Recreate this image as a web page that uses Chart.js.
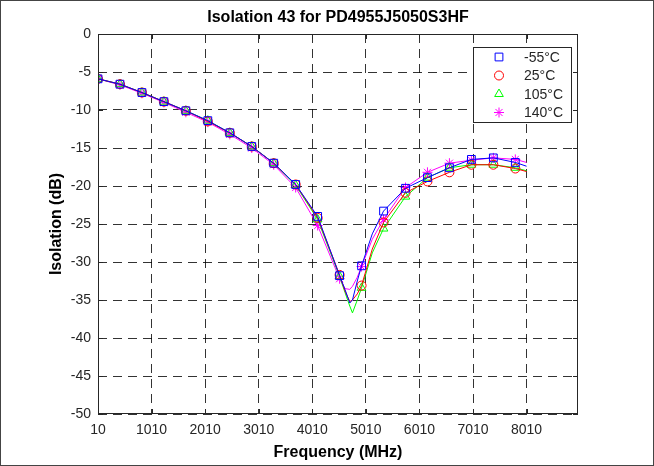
<!DOCTYPE html>
<html>
<head>
<meta charset="utf-8">
<script src="https://cdn.jsdelivr.net/npm/chart.js@4/dist/chart.umd.min.js"></script>
<style>
  html, body { margin: 0; padding: 0; background: #fff; }
  #wrap { position: relative; width: 654px; height: 466px; }
  #frame { position: absolute; left: 0; top: 0; width: 654px; height: 466px; box-sizing: border-box; border: 1px solid #444; pointer-events: none; }
</style>
</head>
<body>
<div id="wrap">
  <canvas id="isoChart" width="654" height="466"></canvas>
  <div id="frame"></div>
</div>
<script>
// Frequency grid (MHz), markers sit on every 410 MHz step
const freq = [10, 420, 830, 1240, 1650, 2060, 2470, 2880, 3290, 3700, 4110, 4520,
  4620, 4710, 4760, 4850, 4930, 5130, 5340, 5750, 6160, 6570, 6980, 7390, 7800, 8010];
const markerFreq = [10, 420, 830, 1240, 1650, 2060, 2470, 2880, 3290, 3700, 4110, 4520,
  4930, 5340, 5750, 6160, 6570, 6980, 7390, 7800];

// Isolation (dB) per temperature
const isoM55 = [-5.9, -6.6, -7.7, -8.9, -10.1, -11.4, -13.0, -14.8, -17.0, -19.8, -24.0, -31.8,
  -33.6, -35.4, -35.0, -32.5, -30.5, -26.3, -23.3, -20.3, -18.9, -17.6, -16.5, -16.3, -16.9, -17.4];
const iso25 = [-5.9, -6.6, -7.7, -8.9, -10.1, -11.5, -13.0, -14.8, -17.0, -19.8, -24.2, -31.7,
  -33.8, -35.2, -35.0, -34.2, -33.1, -28.3, -24.8, -20.9, -19.4, -18.2, -17.2, -17.2, -17.7, -18.1];
const iso105 = [-5.9, -6.6, -7.7, -8.9, -10.1, -11.4, -13.0, -14.8, -17.0, -19.9, -24.4, -31.9,
  -34.0, -35.8, -36.7, -35.0, -33.4, -28.8, -25.6, -21.4, -18.9, -17.6, -17.2, -17.2, -17.6, -18.0];
const iso140 = [-5.9, -6.7, -7.8, -9.0, -10.3, -11.6, -13.2, -15.0, -17.2, -20.2, -25.2, -32.2,
  -33.5, -33.6, -33.2, -32.0, -30.6, -27.0, -24.4, -20.2, -18.2, -17.0, -16.6, -16.3, -16.5, -16.9];

const xTicks = [10, 1010, 2010, 3010, 4010, 5010, 6010, 7010, 8010];
const yTicks = [0, -5, -10, -15, -20, -25, -30, -35, -40, -45, -50];
const seriesNames = ['-55°C', '25°C', '105°C', '140°C'];

const FONT = '"Liberation Sans", Arial, sans-serif';
const TXT = '#262626';

function makeSet(name, vals, color, style, r) {
  return {
    label: name,
    data: freq.map((f, i) => ({ x: f, y: vals[i] })),
    borderColor: color,
    backgroundColor: 'rgba(0,0,0,0)',
    borderWidth: 1,
    pointStyle: style,
    pointBorderColor: color,
    pointBackgroundColor: 'rgba(0,0,0,0)',
    pointBorderWidth: 1,
    pointRadius: ctx => markerFreq.includes(freq[ctx.dataIndex]) ? r : 0,
    legendRadius: r,
    tension: 0
  };
}

// axis box, inner ticks, titles and legend in MATLAB style
const matlabDeco = {
  id: 'matlabDeco',
  afterDatasetsDraw(chart) {
    const { ctx, chartArea: a, scales } = chart;
    ctx.save();
    ctx.strokeStyle = TXT;
    ctx.lineWidth = 1;
    ctx.strokeRect(a.left + 0.5, a.top + 0.5, a.right - a.left - 1, a.bottom - a.top - 1);
    ctx.beginPath();
    xTicks.forEach(t => {
      const x = Math.round(scales.x.getPixelForValue(t)) + 0.5;
      ctx.moveTo(x, a.bottom); ctx.lineTo(x, a.bottom - 5);
      ctx.moveTo(x, a.top); ctx.lineTo(x, a.top + 5);
    });
    yTicks.forEach(t => {
      const y = Math.round(scales.y.getPixelForValue(t)) + 0.5;
      ctx.moveTo(a.left, y); ctx.lineTo(a.left + 5, y);
      ctx.moveTo(a.right, y); ctx.lineTo(a.right - 5, y);
    });
    ctx.stroke();

    // titles
    ctx.fillStyle = '#000';
    ctx.textAlign = 'center';
    ctx.textBaseline = 'middle';
    ctx.font = 'bold 16px ' + FONT;
    ctx.fillText('Isolation 43 for PD4955J5050S3HF', (a.left + a.right) / 2, 18);
    ctx.fillText('Frequency (MHz)', (a.left + a.right) / 2, 453);
    ctx.save();
    ctx.translate(57, (a.top + a.bottom) / 2);
    ctx.rotate(-Math.PI / 2);
    ctx.fillText('Isolation (dB)', 0, 0);
    ctx.restore();

    // legend
    const lx = 473, ly = 47, lw = 98, lh = 75;
    ctx.fillStyle = '#fff';
    ctx.fillRect(lx, ly, lw, lh);
    ctx.strokeStyle = TXT;
    ctx.strokeRect(lx + 0.5, ly + 0.5, lw, lh);
    const rows = [57, 75.5, 94, 112.5];
    ctx.font = '14px ' + FONT;
    ctx.textAlign = 'left';
    chart.data.datasets.forEach((ds, i) => {
      ctx.strokeStyle = ds.borderColor;
      ctx.fillStyle = 'rgba(0,0,0,0)';
      Chart.helpers.drawPoint(ctx, {
        pointStyle: ds.pointStyle, radius: ds.legendRadius,
        rotation: 0, borderWidth: 1
      }, 499, rows[i]);
      ctx.fillStyle = TXT;
      ctx.fillText(seriesNames[i], 524, rows[i] + 1);
    });
    ctx.restore();
  }
};

new Chart(document.getElementById('isoChart'), {
  type: 'line',
  data: {
    datasets: [
      makeSet(seriesNames[0], isoM55, '#0000ff', 'rect', 5.5),
      makeSet(seriesNames[1], iso25, '#ff0000', 'circle', 4.5),
      makeSet(seriesNames[2], iso105, '#00ff00', 'triangle', 5),
      makeSet(seriesNames[3], iso140, '#ff00ff', 'star', 5)
    ]
  },
  options: {
    responsive: false,
    animation: false,
    events: [],
    layout: { padding: { top: 34, right: 76, left: 0, bottom: 0 } },
    plugins: { legend: { display: false }, title: { display: false }, tooltip: { enabled: false } },
    scales: {
      x: {
        type: 'linear', min: 10, max: 8970,
        afterBuildTicks: s => { s.ticks = xTicks.map(v => ({ value: v })); },
        afterFit: s => { s.height = 52; },
        ticks: { color: TXT, font: { family: FONT, size: 14 }, padding: 8, maxRotation: 0, autoSkip: false,
          callback: v => String(v) },
        grid: { color: 'rgba(0,0,0,0.8)', drawTicks: false },
        border: { display: false, dash: [9, 6] }
      },
      y: {
        min: -50, max: 0,
        afterBuildTicks: s => { s.ticks = yTicks.map(v => ({ value: v })); },
        afterFit: s => { s.width = 98; },
        ticks: { color: TXT, font: { family: FONT, size: 14 }, padding: 7, callback: v => String(v) },
        grid: { color: 'rgba(0,0,0,0.8)', drawTicks: false },
        border: { display: false, dash: [9, 6] }
      }
    }
  },
  plugins: [matlabDeco]
});
</script>
</body>
</html>
